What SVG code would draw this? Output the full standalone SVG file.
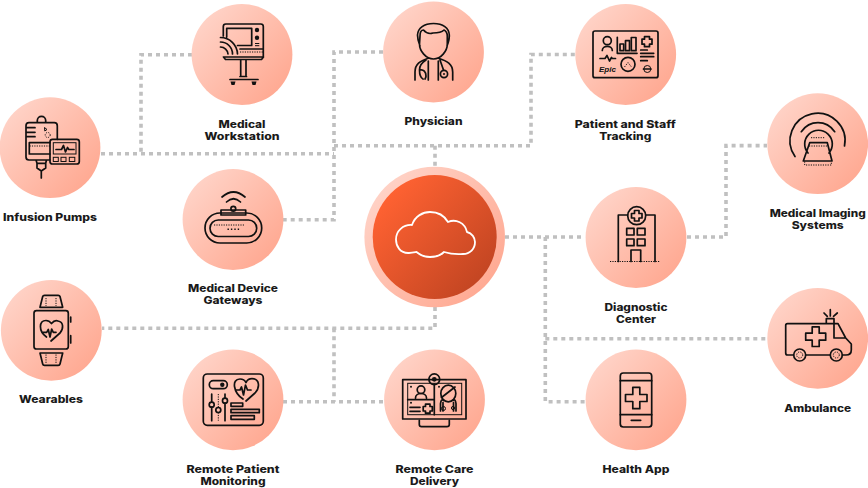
<svg xmlns="http://www.w3.org/2000/svg" width="868" height="488" viewBox="0 0 868 488">
<style>
.c{fill:url(#nodeFill)}
.i{fill:none;stroke:#111;stroke-width:1.7;stroke-linecap:round;stroke-linejoin:round}
.t{fill:none;stroke:#111;stroke-width:1}
.d{fill:none;stroke:#111;stroke-width:1;stroke-dasharray:1.2 1.2}
.k{fill:#111}
.l{font-family:Inter,"Liberation Sans",sans-serif;font-weight:800;font-size:10.2px;fill:#1a1a1a;text-anchor:middle}
#connectors path{fill:none;stroke:#c0c0c0;stroke-width:3.6;stroke-dasharray:4 4}
</style>
<defs>
<linearGradient id="nodeFill" x1=".12" y1=".15" x2=".9" y2=".85"><stop offset="0" stop-color="#ffd2c6"/><stop offset="1" stop-color="#ffa992"/></linearGradient>
<linearGradient id="coreFill" x1=".12" y1=".15" x2=".9" y2=".85"><stop offset="0" stop-color="#ff6232"/><stop offset="1" stop-color="#c24522"/></linearGradient>
</defs>
<rect width="868" height="488" fill="#fff"/>
<g id="connectors">
<path d="M101 153.7H334"/>
<path d="M192 54.7H141V153.7"/>
<path d="M383 52H334V219.7H283"/>
<path d="M334 145.7H531V54.5H576"/>
<path d="M435 145.7V167"/>
<path d="M505 237H585"/>
<path d="M687 237H726V145.6H767"/>
<path d="M545.3 237V401.7H585"/>
<path d="M545.3 338.7H767"/>
<path d="M435 307V328.3H102"/>
<path d="M334 328.3V401.7"/>
<path d="M283 401.7H384"/>
</g>
<g id="core">
<circle cx="434.7" cy="237" r="70.3" class="c"/>
<circle cx="434.7" cy="237" r="62" fill="url(#coreFill)"/>
<path d="M409 253C400 253.5 396 246 396 239.5C396 231 403 224.5 412 225C415 216 423 212 430 212C438 212 444.5 216 448 222C456 218.5 465 223 467 232C472 233 475 238 475 242C475 249 470 254 463 254C457 254.5 452 254.5 444 252C440 256 435 257 430 257C424 257 420 255 416.5 252C414 252.5 412 253 409 253Z" fill="none" stroke="#fff" stroke-width="1.8" stroke-linejoin="round"/>
</g>
<g id="infusion-pumps">
<circle cx="50" cy="147.7" r="50.4" class="c"/>
<path class="i" d="M37.3 122.7V120.5A4.2 4.2 0 0 1 45.7 120.5V122.7M50 160H29A3 3 0 0 1 26 157V125.7A3 3 0 0 1 29 122.7H54.3A3 3 0 0 1 57.3 125.7V139.3M26 127.7H35M26 132.3H35M26 136.7H35M29.3 142.7H50M29.3 142.7V154H50M36 160L37 163.3H45.7L46.5 160M37 163.3V168L41.3 171L45.7 168V163.3M41.3 171V178"/>
<path class="d" d="M29.5 146H50"/>
<circle cx="47.7" cy="135" r="2.5" class="d"/>
<path class="t" d="M44.5 127.5L47 129.5L44.8 131Z"/>
<rect x="50" y="139.3" width="29.3" height="24.7" rx="2.5" class="i"/>
<rect x="53.3" y="142.7" width="22.7" height="11.3" class="t"/>
<path class="i" stroke-width="1" d="M56 149.5H61.5L63.5 145.5L65.5 152L67.5 147.5L68.8 149.5H74"/>
<rect x="53.3" y="157.3" width="5" height="4.2" class="t"/><rect x="61" y="157.3" width="5" height="4.2" class="t"/><rect x="69.3" y="157.3" width="5.5" height="4.2" class="t"/>
</g>
<g id="medical-workstation">
<circle cx="242" cy="54.5" r="50.4" class="c"/>
<path class="i" d="M223.3 36V26.5A2.5 2.5 0 0 1 225.8 24H260.8A2.5 2.5 0 0 1 263.3 26.5V57M226.7 37V28.3H251.7V45.5H237.5M220.5 37.5A17 17 0 0 1 237.5 54M220.5 42A12 12 0 0 1 232.5 54M220.5 47A7.5 7.5 0 0 1 228 54M240 49H263M223.5 57H263.5L261.5 59.5H225.5ZM240.7 60V76.5H246V60M240 76.5H246.5M230 79.5H258"/>
<path class="d" d="M240 52H263"/>
<circle cx="257" cy="30" r="2.2" class="k"/><circle cx="257" cy="37.7" r="2.2" class="k"/>
<path class="t" d="M255 43.5H259.3M255 45.7H259.3"/>
<path class="k" d="M230.5 81.5H235.5L234.5 85H231.5ZM251.5 81.5H256.5L255.5 85H252.5Z"/>
</g>
<g id="physician">
<circle cx="433.5" cy="52" r="50.4" class="c"/>
<path class="i" d="M420 46C418 41 417.5 38 417.5 35C418 28 424 23.5 433.5 23.5C443 23.5 449 28 449.3 35C449.5 38 449 41 447 46M420 36C420 32 421.5 30 423.5 30C426 33 430 34 433 33C437 33 441 33 444 30C446 31 447.3 33 447.3 36V44C447.3 51 441 59 433.5 59C426 59 419.5 51 419.5 44ZM415 80V72C415 64 420 61 428.3 58.3M452.7 80V72C452.7 64 447 61 438.5 58.3M428.3 61V80M438.3 61V80M426 60C421 63 419.5 67 419.5 70C419.5 75 421 78 423 79M420 70C423.5 69 426 72 426 76C426 77.5 425.5 78 425 79M440 60L443.5 70"/>
<circle cx="444" cy="74" r="3.6" class="i"/>
<circle cx="444" cy="74" r="1" class="k"/>
</g>
<g id="patient-staff-tracking">
<circle cx="625.7" cy="54.5" r="50.4" class="c"/>
<rect x="593" y="31" width="65" height="46.7" rx="2" class="i"/>
<circle cx="607.3" cy="40.7" r="4" class="i"/>
<path class="i" d="M602.3 50.5C602.3 45 612.3 45 612.3 50.5M617.3 37.3V53.3H637M600 58.5H605L607 55.5L609.5 61L611.5 57.5L612.5 58.5H615.5M644.5 36.7H649.5V39.2H652V44.2H649.5V46.7H644.5V44.2H642V39.2H644.5ZM640.7 50H647.3M640.7 53.3H653.7M640.7 56.7H653.7M640.7 60.7H647.3"/>
<rect x="620" y="44" width="3.7" height="6.7" class="i"/><rect x="625.5" y="40.7" width="4" height="10" class="i"/><rect x="631.3" y="37.5" width="4.7" height="13.2" class="i"/>
<circle cx="628" cy="64.3" r="7" class="i"/>
<path class="d" d="M624.5 67L628 62.5L631.5 67"/>
<text x="599" y="71.8" font-family="Liberation Sans,sans-serif" font-size="7" font-weight="700" font-style="italic" fill="#111" textLength="17" lengthAdjust="spacingAndGlyphs">Epic</text>
<circle cx="647.3" cy="69" r="3.5" class="t"/>
<path class="i" stroke-width="1" d="M643.5 69H651"/>
</g>
<g id="medical-imaging-systems">
<circle cx="817.7" cy="143.7" r="50.4" class="c"/>
<path class="i" d="M795 156.5A27.5 27.5 0 1 1 844.5 146M801.3 131.7C806 125 811 122.7 818 122.7C825 122.7 830 125 834.7 131.7M808 153A13.8 13.8 0 1 1 829 153M809.7 142.7H827.3L832 161H803.3Z"/>
<path class="d" d="M811 137.7H825M809 146H828M804.7 161.5V165H831.3V161.5"/>
</g>
<g id="medical-device-gateways">
<circle cx="233" cy="219.5" r="50.4" class="c"/>
<path class="i" d="M222 197Q233.5 187 245 197M226.5 202Q233.5 195.5 240.5 202"/>
<rect x="221" y="210" width="24.7" height="5" class="i"/>
<circle cx="233.3" cy="208.8" r="2.4" class="i" fill="#ffbfae"/>
<rect x="205" y="213" width="56.7" height="30" rx="15" class="i"/>
<rect x="210" y="220" width="46.7" height="16.5" rx="8.2" class="i"/>
<path class="d" d="M214 225H245"/>
<path d="M227.5 229.3H240" fill="none" stroke="#111" stroke-width="1.4" stroke-dasharray="1.4 2"/>
</g>
<g id="diagnostic-center">
<circle cx="636" cy="237.5" r="50.4" class="c"/>
<path class="i" d="M627.5 215H618.3V261.5M646 215H655V261.5M631 261.5V250H640.7V261.5"/>
<circle cx="636.7" cy="215.7" r="9" class="i"/>
<path class="i" d="M634.5 210.5H639V213.5H642V218H639V221H634.5V218H631.5V213.5H634.5Z"/>
<rect x="626.7" y="228.3" width="7.3" height="6.7" class="i"/><rect x="637.3" y="228.3" width="7.7" height="6.7" class="i"/><rect x="626.7" y="239" width="7.3" height="6.7" class="i"/><rect x="637.3" y="239" width="7.7" height="6.7" class="i"/>
<path class="d" d="M610 261.5H659.5"/>
</g>
<g id="wearables">
<circle cx="51.3" cy="330.3" r="50.4" class="c"/>
<rect x="34" y="310.7" width="34.3" height="38.3" rx="2.5" class="i"/>
<path class="i" d="M40 307.3L42.7 296.5Q43 295.3 44.5 295.3H58.2Q59.7 295.3 60 296.5L62.7 307.3ZM40 353L42.7 364Q43 365.3 44.5 365.3H58.2Q59.7 365.3 60 364L62.7 353ZM70.7 317V322M70.7 335.7V343M46.5 337C38 331 39 320.5 46 320.5C48.5 320.5 50 321.5 51.5 323.5C53.5 321 56 320 58 321C64 322 63.5 329 60 333L51 341"/>
<path class="i" stroke-width="1" d="M42.7 332.3H46.7L48.3 329.5L50 337L51.7 329L53.3 332.3H56"/>
<path class="d" d="M46 298V306M56 298V306M46 354.5V363M56 354.5V363"/>
</g>
<g id="remote-patient-monitoring">
<circle cx="233" cy="399.8" r="50.4" class="c"/>
<rect x="203.3" y="374" width="60" height="51.3" rx="4" class="i"/>
<rect x="209.3" y="380.7" width="18" height="8" rx="4" class="i"/>
<circle cx="222.3" cy="384.7" r="2.2" class="k"/>
<path class="i" d="M243 399C233.5 393 231 379 240 379C243 379 245 380.5 246 382.5C247 380.5 249.5 378.7 252 378.7C260 378.7 260 388 255 393L246 401M211.7 394V402.2M211.7 407.2V420.7M225 394V398.2M225 403.2V420.7"/>
<path class="i" stroke-width="1" d="M236 390H240L241.5 387L243.5 395L245.5 385L247.5 390H251"/>
<path class="d" d="M218.3 394V407M218.3 412.5V420.7"/>
<circle cx="211.7" cy="404.7" r="2.5" class="i"/><circle cx="218.3" cy="410" r="2.5" class="i"/><circle cx="225" cy="400.7" r="2.5" class="i"/>
<rect x="231" y="403" width="11.7" height="3.3" class="i" stroke-width="1.2"/><rect x="231" y="409.3" width="28.3" height="3.4" class="i" stroke-width="1.2"/><rect x="231" y="415.7" width="23.3" height="3.6" class="i" stroke-width="1.2"/>
</g>
<g id="remote-care-delivery">
<circle cx="434.5" cy="399.8" r="50.4" class="c"/>
<rect x="402.7" y="379.7" width="63.3" height="39.3" class="i"/>
<rect x="407.7" y="383.3" width="54" height="31.4" class="t"/>
<path class="i" stroke-width="1.2" d="M434.3 384V414.7M407.7 399.7H434.3M419.3 420.3V424.5Q419.3 426.7 421.5 426.7H447Q449.3 426.7 449.3 424.5V420.3M410 407.3H420M410 411.3H420M425.5 404.2H430V406.5H432.3V411H430V413.2H425.5V411H423.2V406.5H425.5ZM415.5 398C415.5 392 426.5 392 426.5 398"/>
<circle cx="421" cy="389.7" r="3.8" class="i" stroke-width="1.2"/>
<circle cx="434.3" cy="379.3" r="5.4" class="i" fill="#ffc4b4"/>
<circle cx="434.3" cy="379.3" r="2.4" class="k"/>
<ellipse cx="448.3" cy="393.5" rx="7.5" ry="8.3" class="i" stroke-width="1.2"/>
<path class="i" stroke-width="1.1" d="M441.5 397.5L455 387M440.5 411V403.5C441 400 442 399 443.5 400.5M456 411V403.5C455.5 400 454.5 399 453 400.5M443 402.5V411M453.5 402.5V411"/>
<circle cx="443.5" cy="408.5" r="2" class="t"/><circle cx="453" cy="408" r="1.6" class="t"/>
<circle cx="411" cy="386.8" r="1" class="k"/><circle cx="439" cy="386.8" r="1" class="k"/><circle cx="411" cy="402.8" r="1" class="k"/>
</g>
<g id="ambulance">
<circle cx="817.7" cy="338.3" r="50.4" class="c"/>
<path class="i" d="M793.5 355H787.5Q785.7 355 785.7 353V325.5Q785.7 323.7 787.5 323.7H838L845.7 338L851.3 344V350Q851.3 355 846 355H842.5M805.7 355H830.2M834 323.7V338H845.7M826.3 323.7V318.7H834V323.7M830.3 309.7V316M824 313L827.3 316.3M837.3 313L833.5 316.3M812.2 326.9H819.2V333.2H825.7V340.2H819.2V346.5H812.2V340.2H805.7V333.2H812.2Z"/>
<circle cx="799.7" cy="355" r="6" class="i"/><circle cx="836.3" cy="355" r="6" class="i"/>
<circle cx="799.7" cy="355" r="3" class="d"/><circle cx="836.3" cy="355" r="3" class="d"/>
</g>
<g id="health-app">
<circle cx="636" cy="399.8" r="50.4" class="c"/>
<rect x="620.3" y="373" width="31.4" height="54" rx="3" class="i"/>
<path class="i" d="M620.3 380.7H651.7M620.3 414.7H651.7M631.3 420.3H640.7M632.8 387.3H639.8V394.5H647V401.5H639.8V408.7H632.8V401.5H625.5V394.5H632.8Z"/>
</g>
<g id="labels">
<text class="l" x="50" y="221" textLength="94" lengthAdjust="spacingAndGlyphs">Infusion Pumps</text>
<text class="l" x="242" y="128.3" textLength="47" lengthAdjust="spacingAndGlyphs">Medical</text>
<text class="l" x="242" y="140" textLength="75" lengthAdjust="spacingAndGlyphs">Workstation</text>
<text class="l" x="433.5" y="125" textLength="58" lengthAdjust="spacingAndGlyphs">Physician</text>
<text class="l" x="625.3" y="128.3" textLength="101" lengthAdjust="spacingAndGlyphs">Patient and Staff</text>
<text class="l" x="625.3" y="140" textLength="52" lengthAdjust="spacingAndGlyphs">Tracking</text>
<text class="l" x="817.7" y="216.7" textLength="96" lengthAdjust="spacingAndGlyphs">Medical Imaging</text>
<text class="l" x="817.7" y="228.5" textLength="52" lengthAdjust="spacingAndGlyphs">Systems</text>
<text class="l" x="233" y="292.3" textLength="90" lengthAdjust="spacingAndGlyphs">Medical Device</text>
<text class="l" x="233" y="304" textLength="59" lengthAdjust="spacingAndGlyphs">Gateways</text>
<text class="l" x="636" y="311.3" textLength="63" lengthAdjust="spacingAndGlyphs">Diagnostic</text>
<text class="l" x="636" y="323" textLength="40" lengthAdjust="spacingAndGlyphs">Center</text>
<text class="l" x="51" y="403" textLength="64" lengthAdjust="spacingAndGlyphs">Wearables</text>
<text class="l" x="817.7" y="412" textLength="67" lengthAdjust="spacingAndGlyphs">Ambulance</text>
<text class="l" x="233" y="473" textLength="93" lengthAdjust="spacingAndGlyphs">Remote Patient</text>
<text class="l" x="233" y="485" textLength="65" lengthAdjust="spacingAndGlyphs">Monitoring</text>
<text class="l" x="434.5" y="473" textLength="78" lengthAdjust="spacingAndGlyphs">Remote Care</text>
<text class="l" x="434.5" y="485" textLength="49" lengthAdjust="spacingAndGlyphs">Delivery</text>
<text class="l" x="636" y="473" textLength="67" lengthAdjust="spacingAndGlyphs">Health App</text>
</g>
</svg>
